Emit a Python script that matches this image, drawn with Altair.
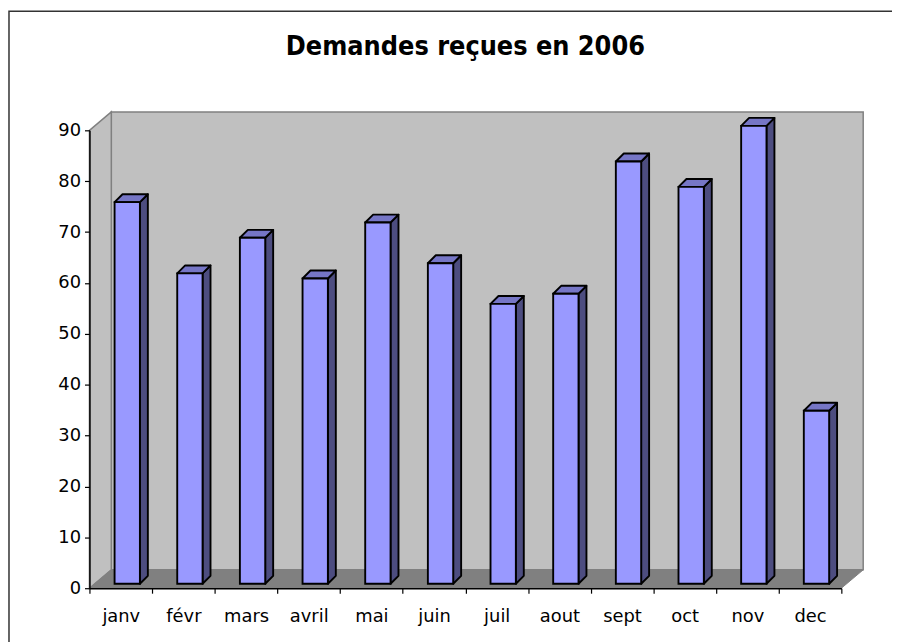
import json
import altair as alt
import pandas as pd

# ---------------- data ----------------
months = ["janv", "févr", "mars", "avril", "mai", "juin",
          "juil", "aout", "sept", "oct", "nov", "dec"]
demandes = [75, 61, 68, 60, 71, 63, 55, 57, 83, 78, 90, 34]
y_ticks = list(range(0, 100, 10))
title_text = "Demandes reçues en 2006"

# ---------------- layout / style ----------------
W, H = 757, 461
N = len(months)
YMAX = 90
band_px = W / N
unit_px = H / YMAX


def px_x(p):
    return p / band_px


def px_y(p):
    return p / unit_px


DX, DY = px_x(22), px_y(18.5)          # depth of the 3-D box
B_LEFT, B_W = px_x(25.3), px_x(25.5)   # bar front face inside a band
B_BASE = px_y(4.5)                      # bar plane lift
B_DX, B_DY = px_x(8), px_y(8)          # bar depth

WALL = "#c0c0c0"
FLOOR = "#808080"
EDGE = "#808080"
FRONT = "#9999ff"
SIDE = "#4d4d80"
TOP = "#7676c6"
FONT = "DejaVu Sans"
TITLE_FONT = "'DejaVu Sans Condensed', 'DejaVu Sans'"
BAR_STROKE = 1.9

# ---------------- tables ----------------
front_rows, side_rows, top_rows = [], [], []
for i, (m, v) in enumerate(zip(months, demandes)):
    xl = i + B_LEFT
    xr = xl + B_W
    yb = B_BASE
    yt = v + B_BASE
    front_rows.append(dict(m=m, x=xl, x2=xr, y=yb, y2=yt))
    side_rows += [dict(m=m, x=xr, y=yb, y2=yt),
                  dict(m=m, x=xr + B_DX, y=yb + B_DY, y2=yt + B_DY)]
    top_rows += [dict(m=m, x=xl, y=yt, y2=yt),
                 dict(m=m, x=xl + B_DX, y=yt, y2=yt + B_DY),
                 dict(m=m, x=xr, y=yt, y2=yt + B_DY),
                 dict(m=m, x=xr + B_DX, y=yt + B_DY, y2=yt + B_DY)]

front_df = pd.DataFrame(front_rows)
side_df = pd.DataFrame(side_rows)
top_df = pd.DataFrame(top_rows)

back_df = pd.DataFrame([dict(x=DX, x2=N + DX, y=DY, y2=YMAX + DY)])
left_df = pd.DataFrame([dict(x=0, y=0, y2=YMAX), dict(x=DX, y=DY, y2=YMAX + DY)])
floor_df = pd.DataFrame([dict(x=0, y=0, y2=0), dict(x=DX, y=0, y2=DY),
                         dict(x=N, y=0, y2=DY), dict(x=N + DX, y=DY, y2=DY)])
frame_df = pd.DataFrame([dict(k=1)])

label_expr = "(" + json.dumps(months, ensure_ascii=False) + ")[datum.value] || ''"

X = alt.X("x:Q",
          scale=alt.Scale(domain=[0, N], nice=False, zero=False),
          axis=alt.Axis(values=list(range(N + 1)), labelExpr=label_expr,
                        labelOffset=band_px / 2, labelFlush=False, labelOverlap=False,
                        tickSize=5, tickColor="black", domainColor="black",
                        domainWidth=1.5, tickWidth=1.2, zindex=1,
                        labelFont=FONT, labelFontSize=18, labelColor="black",
                        labelPadding=15, grid=False, title=None))
Y = alt.Y("y:Q",
          scale=alt.Scale(domain=[0, YMAX], nice=False, zero=True),
          axis=alt.Axis(values=y_ticks, tickSize=5, tickColor="black",
                        domainColor="black", domainWidth=1.5, tickWidth=1.2, zindex=1,
                        labelFont=FONT, labelFontSize=18, labelColor="black",
                        labelPadding=4, grid=False, title=None))

frame = alt.Chart(frame_df).mark_rect(
    fillOpacity=0, stroke="#333333", strokeWidth=1.5
).encode(x=alt.value(-81), x2=alt.value(900), y=alt.value(-120), y2=alt.value(700))

back = alt.Chart(back_df).mark_rect(fill=WALL, stroke=EDGE, strokeWidth=1.5).encode(
    x=X, x2="x2:Q", y=Y, y2="y2:Q")
left = alt.Chart(left_df).mark_area(fill=WALL, stroke=EDGE, strokeWidth=1.5).encode(
    x=X, y=Y, y2="y2:Q")
floor = alt.Chart(floor_df).mark_area(fill=FLOOR, stroke=EDGE, strokeWidth=1).encode(
    x=X, y=Y, y2="y2:Q")

side = alt.Chart(side_df).mark_area(fill=SIDE, stroke="black", strokeWidth=BAR_STROKE,
                                    strokeJoin="round").encode(
    x=X, y=Y, y2="y2:Q", detail="m:N")
top = alt.Chart(top_df).mark_area(fill=TOP, stroke="black", strokeWidth=BAR_STROKE,
                                  strokeJoin="round").encode(
    x=X, y=Y, y2="y2:Q", detail="m:N")
front = alt.Chart(front_df).mark_rect(fill=FRONT, stroke="black",
                                      strokeWidth=BAR_STROKE).encode(
    x=X, x2="x2:Q", y=Y, y2="y2:Q")

chart = alt.layer(frame, back, left, floor, side, top, front).properties(
    width=W, height=H,
    title=alt.TitleParams(title_text, font=TITLE_FONT, fontSize=27, fontWeight="bold",
                          color="black", anchor="middle", frame="group",
                          baseline="alphabetic", offset=-72),
    autosize=alt.AutoSizeParams(type="none"),
    padding={"left": 82, "top": 121, "right": 51, "bottom": 52},
).configure_view(stroke=None).configure(background="white")

chart.save("out.html", embed_options={"renderer": "svg", "actions": False})
